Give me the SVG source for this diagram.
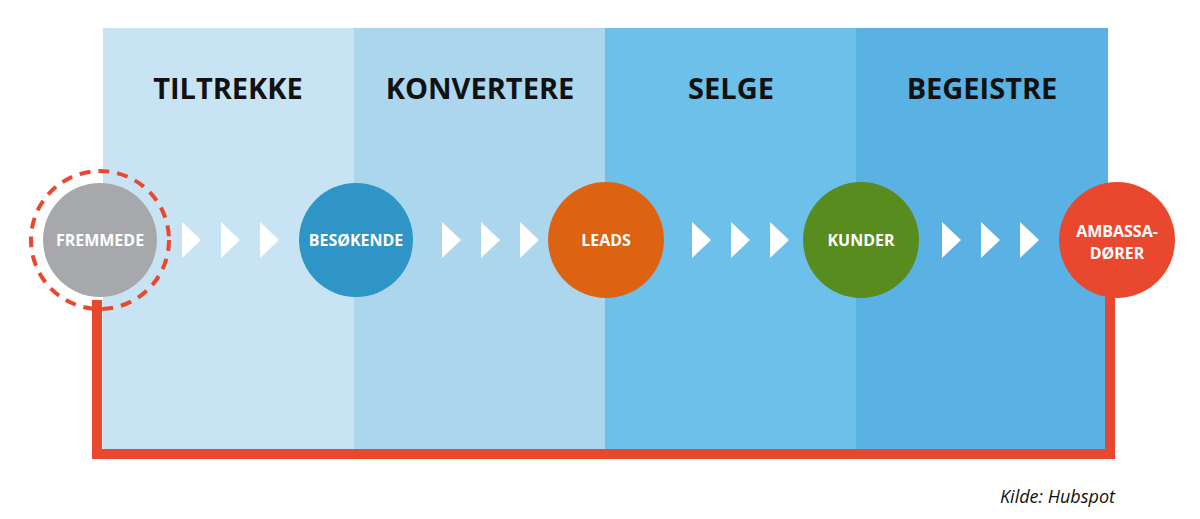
<svg xmlns="http://www.w3.org/2000/svg" width="1200" height="519" viewBox="0 0 1200 519">
<style>
.h{font-family:"Open Sans","Liberation Sans",sans-serif;font-weight:bold;font-size:29px;fill:#111;text-anchor:middle}
.n{font-family:"Open Sans","Liberation Sans",sans-serif;font-weight:bold;font-size:16px;fill:#fff;text-anchor:middle}
.c{fill:#fff}
</style>
<defs><polygon id="ch" points="0,-18 19,0 0,18"/></defs>
<rect x="0" y="0" width="1200" height="519" fill="#fff"/>
<rect x="103" y="28" width="252" height="422" fill="#c8e4f4"/>
<rect x="354" y="28" width="252" height="422" fill="#acd5ee"/>
<rect x="605" y="28" width="252" height="422" fill="#6cc0e9"/>
<rect x="856" y="28" width="252" height="422" fill="#5ab1e3"/>
<text class="h" x="228" y="99">TILTREKKE</text>
<text class="h" x="480" y="99">KONVERTERE</text>
<text class="h" x="731" y="99">SELGE</text>
<text class="h" x="982" y="99">BEGEISTRE</text>
<g id="connectors">
<path d="M97,300 V454 H1110 V290" fill="none" stroke="#e9482e" stroke-width="10"/>
<g class="c">
<use href="#ch" x="182" y="240"/><use href="#ch" x="221" y="240"/><use href="#ch" x="260" y="240"/>
<use href="#ch" x="442" y="240"/><use href="#ch" x="481" y="240"/><use href="#ch" x="520" y="240"/>
<use href="#ch" x="692" y="240"/><use href="#ch" x="731" y="240"/><use href="#ch" x="770" y="240"/>
<use href="#ch" x="942" y="240"/><use href="#ch" x="981" y="240"/><use href="#ch" x="1020" y="240"/>
</g>
</g>
<g id="fremmede">
<circle cx="100" cy="240" r="69" fill="none" stroke="#e9482e" stroke-width="4" stroke-dasharray="11,8"/>
<circle cx="100" cy="240" r="57" fill="#a7a8ab"/>
<text class="n" x="100" y="246">FREMMEDE</text>
</g>
<g id="besokende"><circle cx="356" cy="240" r="57" fill="#2e95c6"/><text class="n" x="356" y="246">BESØKENDE</text></g>
<g id="leads"><circle cx="606" cy="240" r="58" fill="#dd6211"/><text class="n" x="606" y="246">LEADS</text></g>
<g id="kunder"><circle cx="861" cy="240" r="58" fill="#588c1e"/><text class="n" x="861" y="246">KUNDER</text></g>
<g id="ambassadorer"><circle cx="1117" cy="240" r="58" fill="#e9482e"/><text class="n" x="1117" y="237">AMBASSA-</text><text class="n" x="1117" y="259">DØRER</text></g>
<text x="1115" y="503" font-family="'Open Sans','Liberation Sans',sans-serif" font-style="italic" font-size="18" fill="#111" text-anchor="end">Kilde: Hubspot</text>
</svg>
